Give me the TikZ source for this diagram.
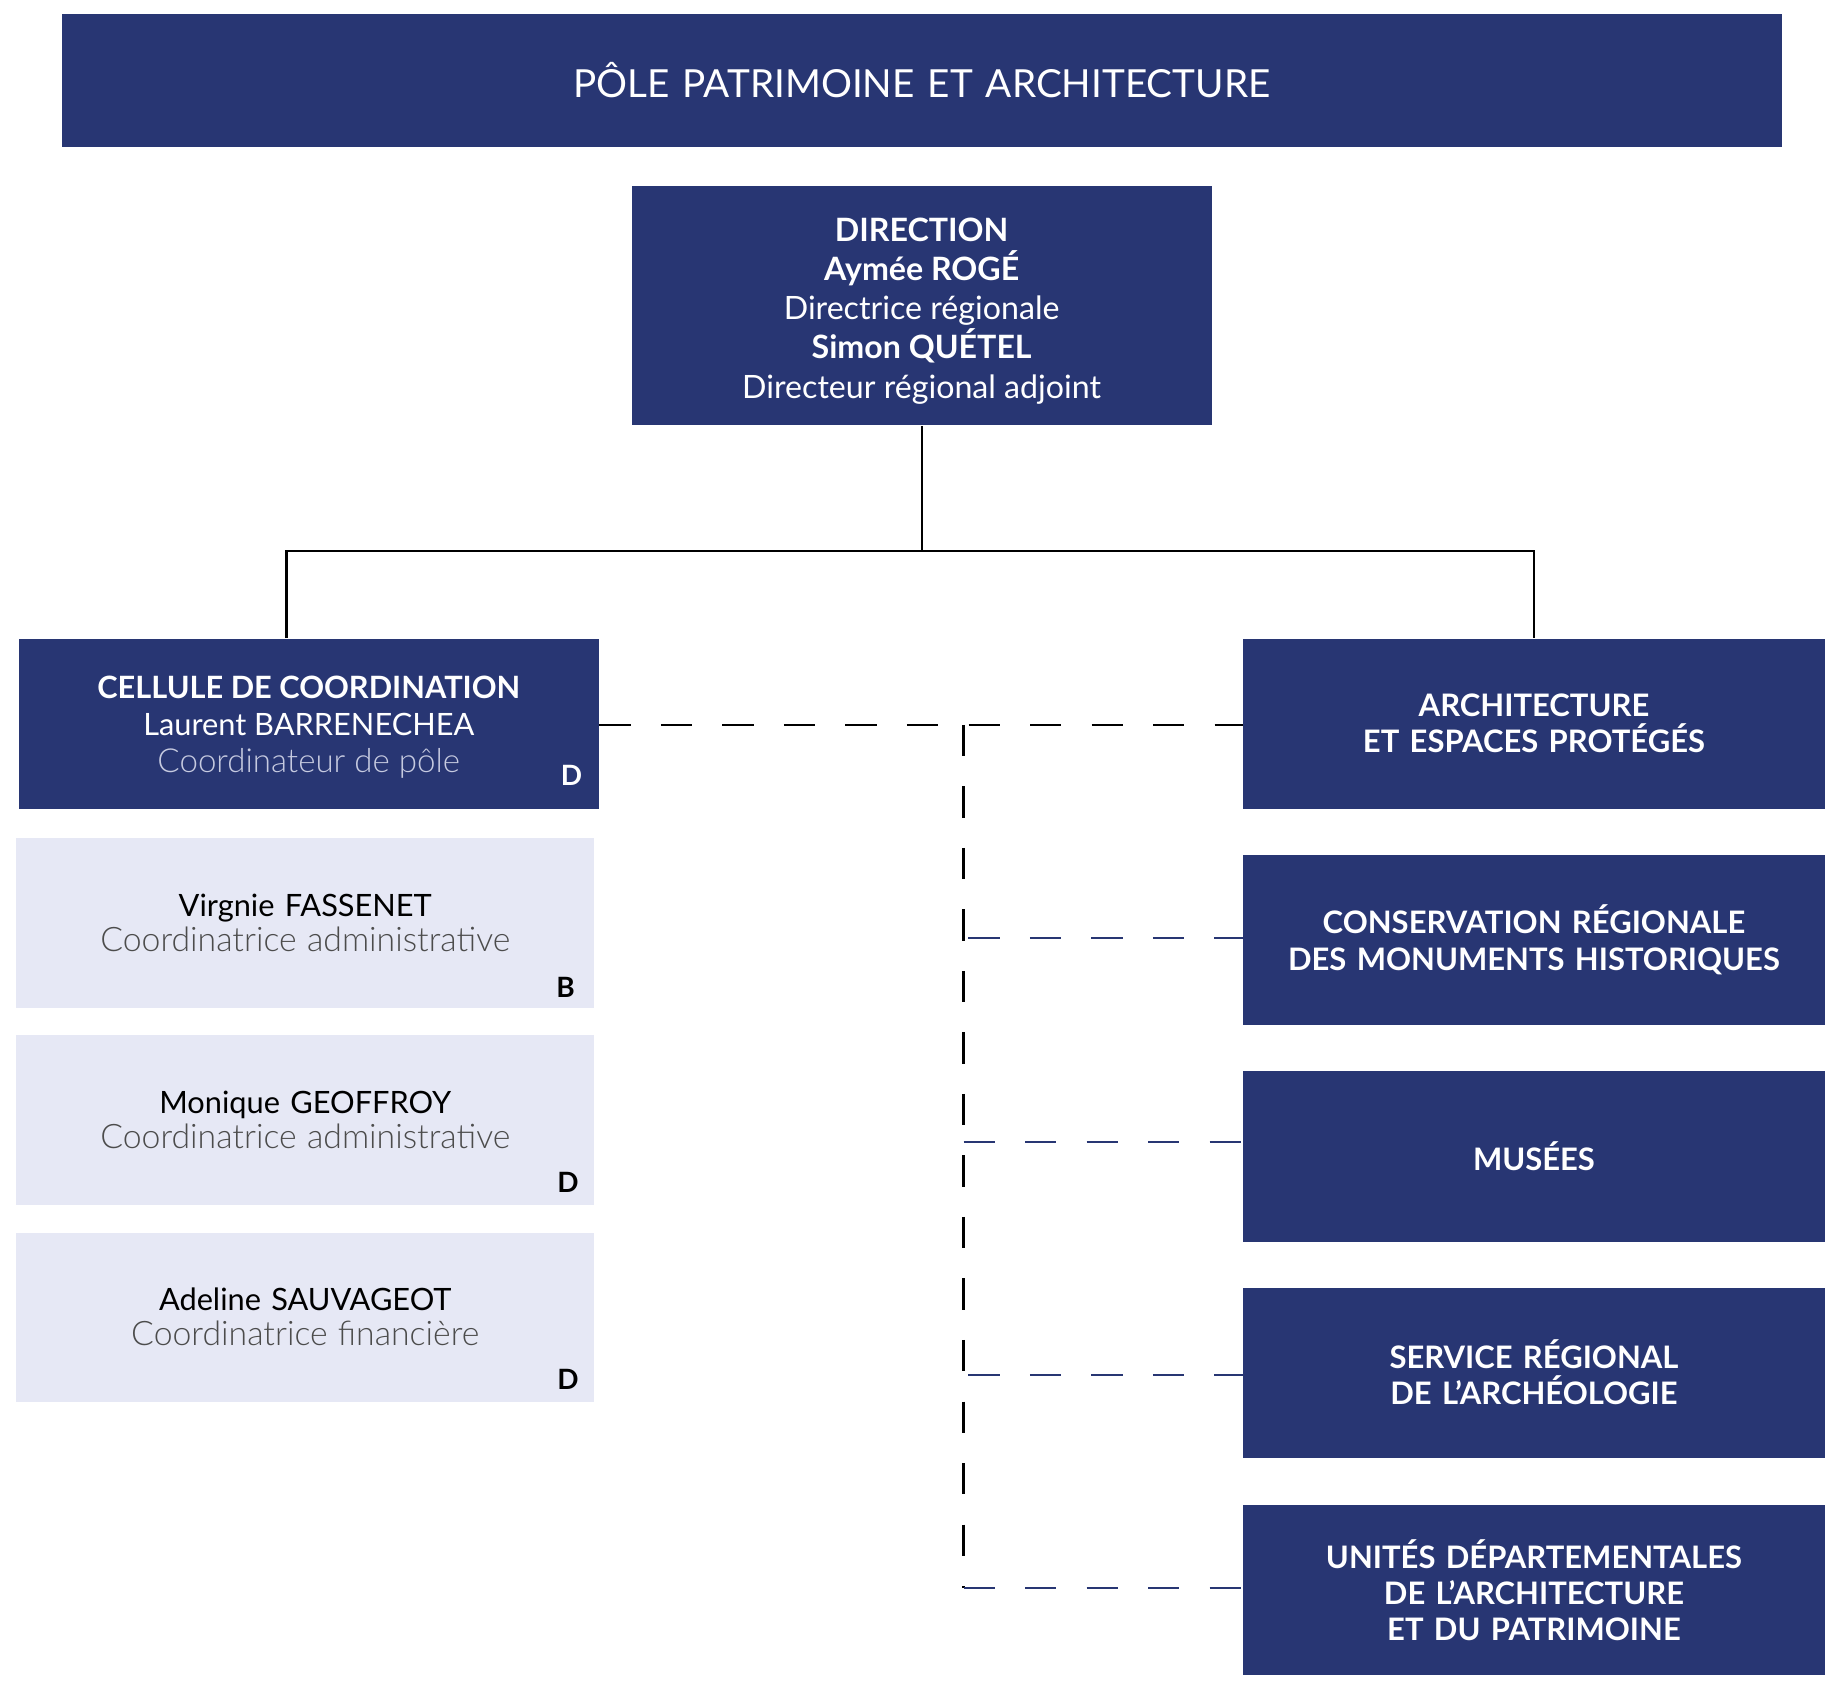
\documentclass[tikz,border=0pt]{standalone}
\usepackage{fontspec}
\setmainfont{Lato}
\newfontfamily\lightfont{Lato Light}
\definecolor{marine}{HTML}{283673}
\definecolor{lavande}{HTML}{E6E8F5}
\definecolor{pale}{HTML}{C6CAE0}
\begin{document}
\begin{tikzpicture}[x=0.5pt,y=-0.5pt,
    bleu/.style={fill=marine,text=white,inner sep=0pt,align=center,minimum height=73pt,text width=249pt,
        font=\fontsize{13}{16}\selectfont},
    clair/.style={fill=lavande,text=black,inner sep=0pt,align=center,minimum height=73pt,text width=248pt,
        font=\fontsize{13.2}{15}\selectfont},
    service/.style={bleu,text width=249.5pt,font=\bfseries\fontsize{13.3}{15.5}\selectfont},
    texte/.style={text=white,align=center,inner sep=0pt},
    cat/.style={font=\bfseries\fontsize{12}{12}\selectfont,inner sep=0pt},
    trait/.style={line width=1pt},
    pointille/.style={line width=1pt,dash pattern=on 13.4pt off 13pt}]
    \useasboundingbox (0,0) rectangle (1568,1447);

    \node[bleu,text width=738pt,minimum height=57pt,font=\fontsize{16.6}{20}\selectfont](pole)at(791,69){PÔLE PATRIMOINE ET ARCHITECTURE};
    \node[bleu,minimum height=102.5pt](dir)at(791,262.5){};
    \node[texte,font=\fontsize{13.8}{16.75}\selectfont](dirtxt)at(791,267){\textbf{DIRECTION}\\\textbf{Aymée ROGÉ}\\Directrice régionale\\\textbf{Simon QUÉTEL}\\Directeur régional adjoint};

    \node[bleu](cel)at(265,621){};
    \node[texte,font=\fontsize{13.2}{16}\selectfont](celtxt)at(265,624){\textbf{CELLULE DE COORDINATION}\\Laurent BARRENECHEA\\{\lightfont\fontsize{14.2}{16}\selectfont\color{pale}Coordinateur de pôle}};
    \node[cat,text=white]at([xshift=-12pt,yshift=14.5pt]cel.south east){D};

    \node[clair](p1)at(262,792){Virgnie FASSENET\\{\lightfont\fontsize{14.5}{15}\selectfont\color{black!70}Coordinatrice administrative}};
    \node[cat]at([xshift=-12.5pt,yshift=9pt]p1.south east){B};
    \node[clair](p2)at(262,961){Monique GEOFFROY\\{\lightfont\fontsize{14.5}{15}\selectfont\color{black!70}Coordinatrice administrative}};
    \node[cat]at([xshift=-11.5pt,yshift=10pt]p2.south east){D};
    \node[clair,minimum height=72.5pt](p3)at(262,1130.5){Adeline SAUVAGEOT\\{\lightfont\fontsize{14.5}{15}\selectfont\color{black!70}Coordinatrice financière}};
    \node[cat]at([xshift=-11.5pt,yshift=10pt]p3.south east){D};

    \node[service](arch)at(1316.5,621){ARCHITECTURE\\ET ESPACES PROTÉGÉS};
    \node[service](crmh)at(1316.5,806.5){CONSERVATION RÉGIONALE\\DES MONUMENTS HISTORIQUES};
    \node[service](mus)at(1316.5,992.5){MUSÉES};
    \node[service](sra)at(1316.5,1178){SERVICE RÉGIONAL\\DE L’ARCHÉOLOGIE};
    \node[service](udap)at(1316.5,1364.5){UNITÉS DÉPARTEMENTALES\\DE L’ARCHITECTURE\\ET DU PATRIMOINE};

    \draw[trait](dir.south)--(791,473)coordinate(nd);
    \draw[trait](cel.north-|246,0)|-(nd)-|(arch.north);
    \draw[pointille](cel.east|-0,622)--(arch.west|-0,622);
    \coordinate(tronc)at(827,622);
    \draw[pointille](tronc)--(827,1363)coordinate(pied);
    \draw[pointille,marine](831,805)--(crmh.west|-0,805);
    \draw[pointille,marine](827,980)--(mus.west|-0,980);
    \draw[pointille,marine](831,1180)--(sra.west|-0,1180);
    \draw[pointille,marine](pied)--(udap.west|-0,1363);
\end{tikzpicture}
\end{document}
